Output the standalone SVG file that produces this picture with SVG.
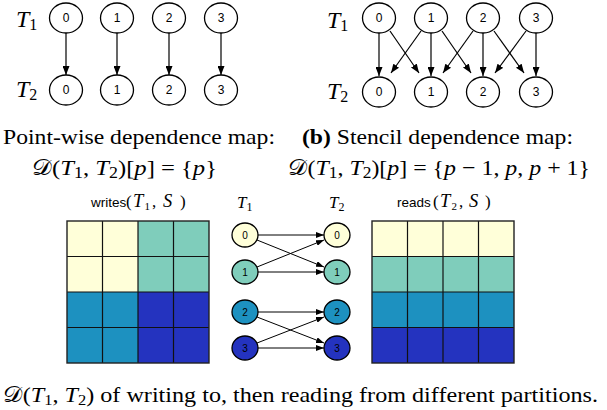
<svg xmlns="http://www.w3.org/2000/svg" width="607" height="410" viewBox="0 0 607 410">
<defs>
<marker id="ah" markerUnits="userSpaceOnUse" markerWidth="9" markerHeight="7" refX="9" refY="3.5" orient="auto"><path d="M0,0 L9,3.5 L0,7 z" fill="#000"/></marker>
<marker id="ahs" markerUnits="userSpaceOnUse" markerWidth="8" markerHeight="6" refX="8" refY="3" orient="auto"><path d="M0,0 L8,3 L0,6 z" fill="#000"/></marker>
<style>
.n{fill:#fff;stroke:#000;stroke-width:1.3}
.nt{font-family:"Liberation Sans",Arial,sans-serif;font-size:12px;text-anchor:middle;fill:#000}
.ns{font-family:"Liberation Sans",Arial,sans-serif;font-size:10px;text-anchor:middle;fill:#000}
.e{stroke:#000;stroke-width:1.2;fill:none;marker-end:url(#ah)}
.es{stroke:#000;stroke-width:1;fill:none;marker-end:url(#ahs)}
.lab{font-family:"Liberation Serif","DejaVu Serif",serif;font-style:italic;font-size:24px;fill:#000}
.sub{font-style:normal}
.cap{font-family:"Liberation Serif","DejaVu Serif",serif;font-size:22px;fill:#000}
.it{font-style:italic}
.scr{font-family:"DejaVu Serif","DejaVu Sans",serif}
.hd{font-family:"Liberation Sans",Arial,sans-serif;font-size:13.5px;fill:#000}
.hm{font-family:"Liberation Serif","DejaVu Serif",serif;font-size:17px;fill:#000}
.hi{font-family:"Liberation Serif","DejaVu Serif",serif;font-size:18.5px;font-style:italic;fill:#000}
.hs{font-family:"Liberation Serif","DejaVu Serif",serif;font-size:11px;fill:#000}
.c{stroke:#111;stroke-width:1.2}
.y{fill:#ffffd9}.g{fill:#7fcdbb}.b{fill:#1d91c0}.d{fill:#2433bf}
</style>
</defs>

<!-- top-left panel -->
<g id="labels-a">
<text class="lab" x="16" y="27">T<tspan class="sub" font-size="16" dy="3">1</tspan></text>
<text class="lab" x="16" y="97">T<tspan class="sub" font-size="16" dy="3">2</tspan></text>
</g>
<g id="a-t1-0"><ellipse class="n" cx="66" cy="18" rx="16.5" ry="15"/><text class="nt" x="66" y="22">0</text></g>
<g id="a-t1-1"><ellipse class="n" cx="117" cy="18" rx="16.5" ry="15"/><text class="nt" x="117" y="22">1</text></g>
<g id="a-t1-2"><ellipse class="n" cx="169" cy="18" rx="16.5" ry="15"/><text class="nt" x="169" y="22">2</text></g>
<g id="a-t1-3"><ellipse class="n" cx="221" cy="18" rx="16.5" ry="15"/><text class="nt" x="221" y="22">3</text></g>
<g id="a-t2-0"><ellipse class="n" cx="66" cy="90" rx="16.5" ry="15"/><text class="nt" x="66" y="94">0</text></g>
<g id="a-t2-1"><ellipse class="n" cx="117" cy="90" rx="16.5" ry="15"/><text class="nt" x="117" y="94">1</text></g>
<g id="a-t2-2"><ellipse class="n" cx="169" cy="90" rx="16.5" ry="15"/><text class="nt" x="169" y="94">2</text></g>
<g id="a-t2-3"><ellipse class="n" cx="221" cy="90" rx="16.5" ry="15"/><text class="nt" x="221" y="94">3</text></g>

<!-- top-right panel -->
<g id="labels-b">
<text class="lab" x="327" y="28">T<tspan class="sub" font-size="16" dy="3">1</tspan></text>
<text class="lab" x="327" y="99">T<tspan class="sub" font-size="16" dy="3">2</tspan></text>
</g>
<g id="b-t1-0"><ellipse class="n" cx="379" cy="18" rx="16.5" ry="15"/><text class="nt" x="379" y="22">0</text></g>
<g id="b-t1-1"><ellipse class="n" cx="431" cy="18" rx="16.5" ry="15"/><text class="nt" x="431" y="22">1</text></g>
<g id="b-t1-2"><ellipse class="n" cx="483" cy="18" rx="16.5" ry="15"/><text class="nt" x="483" y="22">2</text></g>
<g id="b-t1-3"><ellipse class="n" cx="536" cy="18" rx="16.5" ry="15"/><text class="nt" x="536" y="22">3</text></g>
<g id="b-t2-0"><ellipse class="n" cx="379" cy="92" rx="16.5" ry="15"/><text class="nt" x="379" y="96">0</text></g>
<g id="b-t2-1"><ellipse class="n" cx="431" cy="92" rx="16.5" ry="15"/><text class="nt" x="431" y="96">1</text></g>
<g id="b-t2-2"><ellipse class="n" cx="483" cy="92" rx="16.5" ry="15"/><text class="nt" x="483" y="96">2</text></g>
<g id="b-t2-3"><ellipse class="n" cx="536" cy="92" rx="16.5" ry="15"/><text class="nt" x="536" y="96">3</text></g>

<!-- middle panel nodes -->
<g id="c-labels">
<text class="hm" x="237" y="208" font-style="italic" font-size="18">T<tspan class="sub" font-size="12" dy="3">1</tspan></text>
<text class="hm" x="329" y="208" font-style="italic" font-size="18">T<tspan class="sub" font-size="12" dy="3">2</tspan></text>
</g>
<g id="c-t1-0"><ellipse class="n y" cx="245" cy="235" rx="13" ry="12"/><text class="ns" x="245" y="239">0</text></g>
<g id="c-t1-1"><ellipse class="n g" cx="245" cy="272" rx="13" ry="12"/><text class="ns" x="245" y="276">1</text></g>
<g id="c-t1-2"><ellipse class="n b" cx="245" cy="312" rx="13" ry="12"/><text class="ns" x="245" y="316">2</text></g>
<g id="c-t1-3"><ellipse class="n d" cx="245" cy="348" rx="13" ry="12"/><text class="ns" x="245" y="352">3</text></g>
<g id="c-t2-0"><ellipse class="n y" cx="337" cy="235" rx="13" ry="12"/><text class="ns" x="337" y="239">0</text></g>
<g id="c-t2-1"><ellipse class="n g" cx="337" cy="272" rx="13" ry="12"/><text class="ns" x="337" y="276">1</text></g>
<g id="c-t2-2"><ellipse class="n b" cx="337" cy="312" rx="13" ry="12"/><text class="ns" x="337" y="316">2</text></g>
<g id="c-t2-3"><ellipse class="n d" cx="337" cy="348" rx="13" ry="12"/><text class="ns" x="337" y="352">3</text></g>

<!-- connectors -->
<g id="connectors">
<line class="e" x1="66" y1="33" x2="66" y2="75"/>
<line class="e" x1="117" y1="33" x2="117" y2="75"/>
<line class="e" x1="169" y1="33" x2="169" y2="75"/>
<line class="e" x1="221" y1="33" x2="221" y2="75"/>

<line class="e" x1="379" y1="33" x2="379" y2="76"/>
<line class="e" x1="431" y1="33" x2="431" y2="76"/>
<line class="e" x1="483" y1="33" x2="483" y2="76"/>
<line class="e" x1="536" y1="33" x2="536" y2="76"/>
<line class="e" x1="390" y1="31" x2="419" y2="73"/>
<line class="e" x1="421" y1="31" x2="391" y2="73"/>
<line class="e" x1="442" y1="31" x2="471" y2="73"/>
<line class="e" x1="473" y1="31" x2="443" y2="73"/>
<line class="e" x1="494" y1="31" x2="524" y2="73"/>
<line class="e" x1="526" y1="31" x2="495" y2="73"/>

<line class="es" x1="258" y1="235" x2="324" y2="235"/>
<line class="es" x1="257" y1="240" x2="324" y2="267"/>
<line class="es" x1="257" y1="267" x2="324" y2="240"/>
<line class="es" x1="258" y1="272" x2="324" y2="272"/>
<line class="es" x1="258" y1="312" x2="324" y2="312"/>
<line class="es" x1="257" y1="317" x2="324" y2="343"/>
<line class="es" x1="257" y1="343" x2="324" y2="317"/>
<line class="es" x1="258" y1="348" x2="324" y2="348"/>
</g>

<!-- captions -->
<text class="cap" x="3" y="144" textLength="272" lengthAdjust="spacingAndGlyphs">Point-wise dependence map:</text>
<text class="cap" x="302" y="144" textLength="271" lengthAdjust="spacingAndGlyphs"><tspan font-weight="bold">(b)</tspan> Stencil dependence map:</text>
<text class="cap" x="32" y="175" font-size="23" textLength="185" lengthAdjust="spacingAndGlyphs"><tspan class="scr">𝒟</tspan>(<tspan class="it">T</tspan><tspan font-size="16" dy="3">1</tspan><tspan dy="-3">, </tspan><tspan class="it">T</tspan><tspan font-size="16" dy="3">2</tspan><tspan dy="-3">)[</tspan><tspan class="it">p</tspan>] = {<tspan class="it">p</tspan>}</text>
<text class="cap" x="288" y="175" font-size="23" textLength="302" lengthAdjust="spacingAndGlyphs"><tspan class="scr">𝒟</tspan>(<tspan class="it">T</tspan><tspan font-size="16" dy="3">1</tspan><tspan dy="-3">, </tspan><tspan class="it">T</tspan><tspan font-size="16" dy="3">2</tspan><tspan dy="-3">)[</tspan><tspan class="it">p</tspan>] = {<tspan class="it">p</tspan> − 1, <tspan class="it">p</tspan>, <tspan class="it">p</tspan> + 1}</text>
<text class="cap" x="3" y="402" textLength="595" lengthAdjust="spacingAndGlyphs"><tspan class="scr">𝒟</tspan>(<tspan class="it">T</tspan><tspan font-size="15" dy="3">1</tspan><tspan dy="-3">, </tspan><tspan class="it">T</tspan><tspan font-size="15" dy="3">2</tspan><tspan dy="-3">) of writing to, then reading from different partitions.</tspan></text>

<!-- grid headers -->
<g id="writes-header">
<text class="hd" x="91" y="207">writes</text>
<text class="hm" x="126" y="207">(</text>
<text class="hi" x="133" y="207">T</text>
<text class="hs" x="144.5" y="210">1</text>
<text class="hm" x="152" y="207">,</text>
<text class="hi" x="163" y="207">S</text>
<text class="hm" x="180" y="207">)</text>
</g>
<g id="reads-header">
<text class="hd" x="397" y="207">reads</text>
<text class="hm" x="433" y="207">(</text>
<text class="hi" x="440" y="207">T</text>
<text class="hs" x="451.5" y="210">2</text>
<text class="hm" x="459" y="207">,</text>
<text class="hi" x="469" y="207">S</text>
<text class="hm" x="485" y="207">)</text>
</g>

<!-- writes grid -->
<g id="writes-grid">
<rect class="y" x="67" y="221" width="71" height="71"/>
<rect class="g" x="138" y="221" width="71" height="71"/>
<rect class="b" x="67" y="292" width="71" height="71"/>
<rect class="d" x="138" y="292" width="71" height="71"/>
<g class="c">
<line x1="102.5" y1="221" x2="102.5" y2="363"/><line x1="138" y1="221" x2="138" y2="363"/><line x1="173.5" y1="221" x2="173.5" y2="363"/>
<line x1="67" y1="256.5" x2="209" y2="256.5"/><line x1="67" y1="292" x2="209" y2="292"/><line x1="67" y1="327.5" x2="209" y2="327.5"/>
</g>
<rect x="67" y="221" width="142" height="142" fill="none" stroke="#222" stroke-width="1.4"/>
</g>

<!-- reads grid -->
<g id="reads-grid">
<rect class="y" x="372" y="221" width="142" height="35.5"/>
<rect class="g" x="372" y="256.5" width="142" height="35.5"/>
<rect class="b" x="372" y="292" width="142" height="35.5"/>
<rect class="d" x="372" y="327.5" width="142" height="35.5"/>
<g class="c">
<line x1="407.5" y1="221" x2="407.5" y2="363"/><line x1="443" y1="221" x2="443" y2="363"/><line x1="478.5" y1="221" x2="478.5" y2="363"/>
<line x1="372" y1="256.5" x2="514" y2="256.5"/><line x1="372" y1="292" x2="514" y2="292"/><line x1="372" y1="327.5" x2="514" y2="327.5"/>
</g>
<rect x="372" y="221" width="142" height="142" fill="none" stroke="#222" stroke-width="1.4"/>
</g>
</svg>
